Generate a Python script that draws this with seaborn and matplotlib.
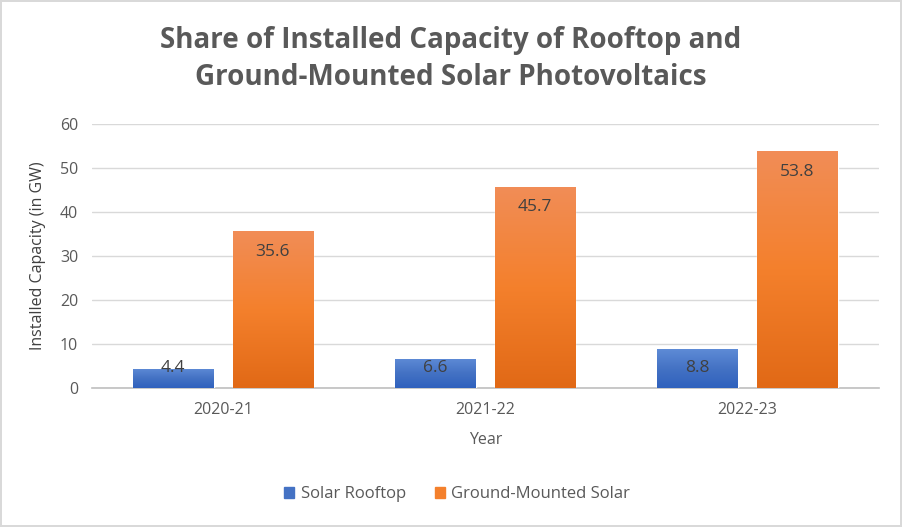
import matplotlib
matplotlib.use("Agg")
import matplotlib.pyplot as plt
import matplotlib.colors as mcolors
import numpy as np
import pandas as pd
import seaborn as sns

years = ["2020-21", "2021-22", "2022-23"]
rooftop = [4.4, 6.6, 8.8]
ground = [35.6, 45.7, 53.8]
series = ["Solar Rooftop", "Ground-Mounted Solar"]

# gradient stops (top, middle, bottom) for each series
blue_grad = ["#5e8bd6", "#4472c4", "#2f61bd"]
orange_grad = ["#f18d57", "#f4802c", "#e16916"]

df = pd.DataFrame({
    "Year": years * 2,
    "Series": [series[0]] * 3 + [series[1]] * 3,
    "Value": rooftop + ground,
})

sns.set_style("white")
plt.rcParams["font.family"] = ["Open Sans", "DejaVu Sans"]
grey = "#595959"

fig = plt.figure(figsize=(9.02, 5.27), dpi=100)
fig.patch.set_edgecolor("#d9d9d9")
fig.patch.set_linewidth(1.5)
ax = fig.add_axes([0.102, 0.264, 0.872, 0.501])

sns.barplot(data=df, x="Year", y="Value", hue="Series", hue_order=series,
            palette=[blue_grad[1], orange_grad[1]], width=0.76, gap=0.19,
            ax=ax, legend=False, zorder=3)

# vertical gradient fill clipped to each bar
for i, s in enumerate(series):
    stops = blue_grad if i == 0 else orange_grad
    cmap = mcolors.LinearSegmentedColormap.from_list("g" + str(i), stops[::-1])
    for p in ax.containers[i]:
        x0, y0 = p.get_x(), p.get_y()
        w, h = p.get_width(), p.get_height()
        img = ax.imshow(np.linspace(0, 1, 256).reshape(-1, 1), cmap=cmap,
                        extent=[x0, x0 + w, y0, y0 + h], origin="lower",
                        aspect="auto", zorder=3.5)
        img.set_clip_path(p)
        p.set_facecolor("none")

# value labels (inside end)
for i in range(2):
    for p in ax.containers[i]:
        v = p.get_height()
        ypos = max(v - 4.7, 4.6)
        ax.text(p.get_x() + p.get_width() / 2, ypos, f"{v:.1f}", ha="center",
                va="center", fontsize=12.5, color="#404040", zorder=5)

ax.set_xlim(-0.5, 2.5)
ax.set_ylim(0, 60)
ax.set_yticks(range(0, 61, 10))
ax.yaxis.grid(True, color="#d9d9d9", linewidth=1, zorder=0)
ax.set_axisbelow(True)
for side in ["left", "right", "top"]:
    ax.spines[side].set_visible(False)
ax.spines["bottom"].set_color("#bfbfbf")
ax.spines["bottom"].set_linewidth(1.2)
ax.tick_params(axis="both", length=0, labelsize=11.5, labelcolor=grey, pad=10)
ax.set_xlabel("Year", fontsize=11.5, color=grey, labelpad=10)
ax.set_ylabel("Installed Capacity (in GW)", fontsize=11.5, color="#404040", labelpad=10)

fig.text(0.5, 0.888, "Share of Installed Capacity of Rooftop and\nGround-Mounted Solar Photovoltaics",
         ha="center", va="center", fontsize=20, fontweight="bold", color=grey,
         linespacing=1.33)

handles = [plt.Rectangle((0, 0), 1, 1, color=blue_grad[1]),
           plt.Rectangle((0, 0), 1, 1, color=orange_grad[1])]
fig.legend(handles, series, loc="center", bbox_to_anchor=(0.507, 0.062), ncol=2,
           frameon=False, fontsize=12, labelcolor=grey, handlelength=0.6,
           handleheight=0.6, handletextpad=0.4, columnspacing=1.7)

fig.savefig("out.png", dpi=100)
